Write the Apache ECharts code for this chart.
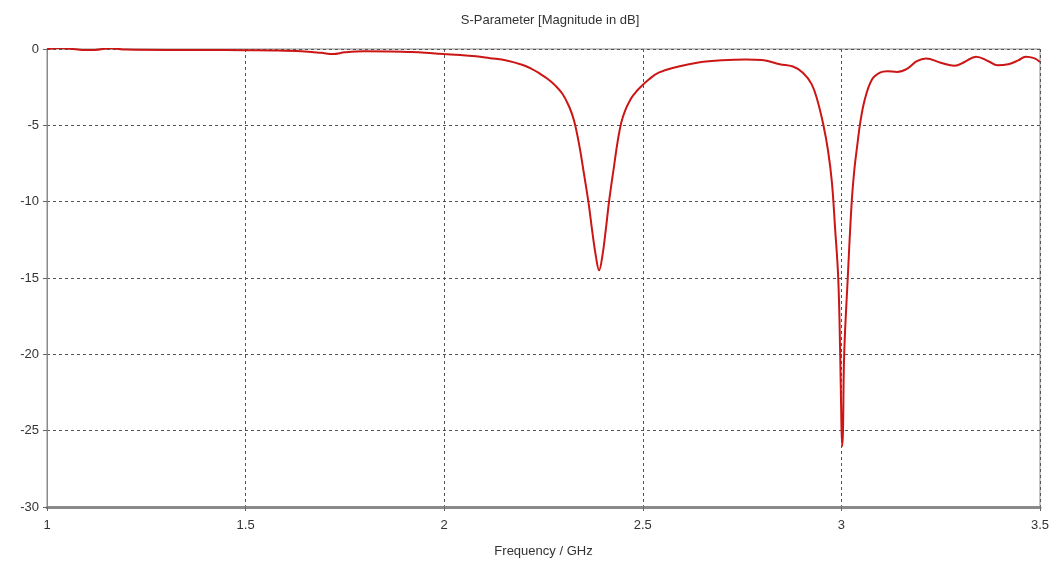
<!DOCTYPE html>
<html>
<head>
<meta charset="utf-8">
<script src="https://cdn.jsdelivr.net/npm/echarts@6/dist/echarts.min.js"></script>
<style>
html,body{margin:0;padding:0;background:#fff;}
#c{width:1058px;height:566px;}
</style>
</head>
<body>
<div id="c"></div>
<script>
const titleText = 'S-Parameter [Magnitude in dB]';
const xAxisName = 'Frequency / GHz';
const freqGHz = [
1.00,1.03,1.06,1.09,1.12,1.16,1.20,1.30,1.40,1.50,1.58,1.64,1.69,1.72,1.75,1.80,1.86,1.92,1.97,2.00,
2.04,2.08,2.115,2.157,2.198,2.22,2.24,2.26,2.28,2.298,2.315,2.327,2.34,2.352,2.363,2.373,2.382,2.39,2.398,2.407,
2.415,2.428,2.437,2.446,2.456,2.468,2.48,2.49,2.515,2.54,2.59,2.64,2.70,2.76,2.80,2.845,2.878,2.903,2.925,2.94,
2.954,2.966,2.976,2.984,2.992,2.997,3.000,3.002,3.004,3.007,3.016,3.026,3.033,3.04,3.047,3.059,3.077,3.097,3.115,3.14,
3.165,3.19,3.213,3.25,3.285,3.31,3.339,3.37,3.393,3.42,3.445,3.464,3.485,3.50
];
const s11dB = [
0,0.07,0.02,-0.06,-0.06,0.05,-0.04,-0.06,-0.06,-0.08,-0.1,-0.15,-0.25,-0.33,-0.22,-0.15,-0.16,-0.2,-0.28,-0.33,
-0.39,-0.48,-0.6,-0.75,-1.05,-1.3,-1.6,-1.95,-2.4,-2.95,-3.8,-4.7,-6.3,-8.2,-10,-12,-13.6,-14.5,-13.6,-11.8,
-10,-7.6,-6.0,-4.8,-4.0,-3.35,-2.9,-2.6,-2.0,-1.55,-1.15,-0.88,-0.73,-0.68,-0.72,-1.0,-1.15,-1.55,-2.3,-3.4,
-4.9,-6.6,-8.7,-11.7,-15,-20,-24.5,-26,-25,-20,-15,-10,-7.8,-6.3,-4.9,-3.3,-2.0,-1.55,-1.45,-1.5,
-1.3,-0.8,-0.62,-0.9,-1.1,-0.85,-0.5,-0.8,-1.07,-1.0,-0.75,-0.5,-0.6,-0.85
];
const xTicks = {min:1, max:3.5, interval:0.5};
const yTicks = {min:-30, max:0, interval:5};

const pts = freqGHz.map((f,i)=>[f, s11dB[i]]);
const font = 'Liberation Sans, Arial, sans-serif';
const chart = echarts.init(document.getElementById('c'));
chart.setOption({
  animation:false,
  backgroundColor:'#fff',
  title:{text:titleText,left:545,textAlign:'center',top:9,
    textStyle:{fontSize:13,fontWeight:'normal',color:'#333',fontFamily:font}},
  grid:{left:47,right:18,top:49,bottom:59,show:true,borderColor:'#8a8a8a',borderWidth:1},
  xAxis:{type:'value',min:xTicks.min,max:xTicks.max,interval:xTicks.interval,
    name:xAxisName,nameLocation:'middle',nameGap:38,
    nameTextStyle:{fontSize:13,color:'#333',fontFamily:font},
    axisLine:{show:true,onZero:false,lineStyle:{color:'#8a8a8a',width:3}},
    axisTick:{show:true,length:4,lineStyle:{color:'#666'}},
    axisLabel:{fontSize:13,color:'#333',margin:12,fontFamily:font},
    splitLine:{show:true,lineStyle:{color:'#555',type:[3,3],width:1}}},
  yAxis:{type:'value',min:yTicks.min,max:yTicks.max,interval:yTicks.interval,
    axisLine:{show:true,lineStyle:{color:'#8a8a8a',width:1}},
    axisTick:{show:true,length:4,lineStyle:{color:'#666'}},
    axisLabel:{fontSize:13,color:'#333',margin:8,fontFamily:font},
    splitLine:{show:true,lineStyle:{color:'#555',type:[3,3],width:1}}},
  series:[{type:'line',data:pts,showSymbol:false,smooth:0.4,
    lineStyle:{color:'#cc1616',width:2},z:5}]
});
</script>
</body>
</html>
